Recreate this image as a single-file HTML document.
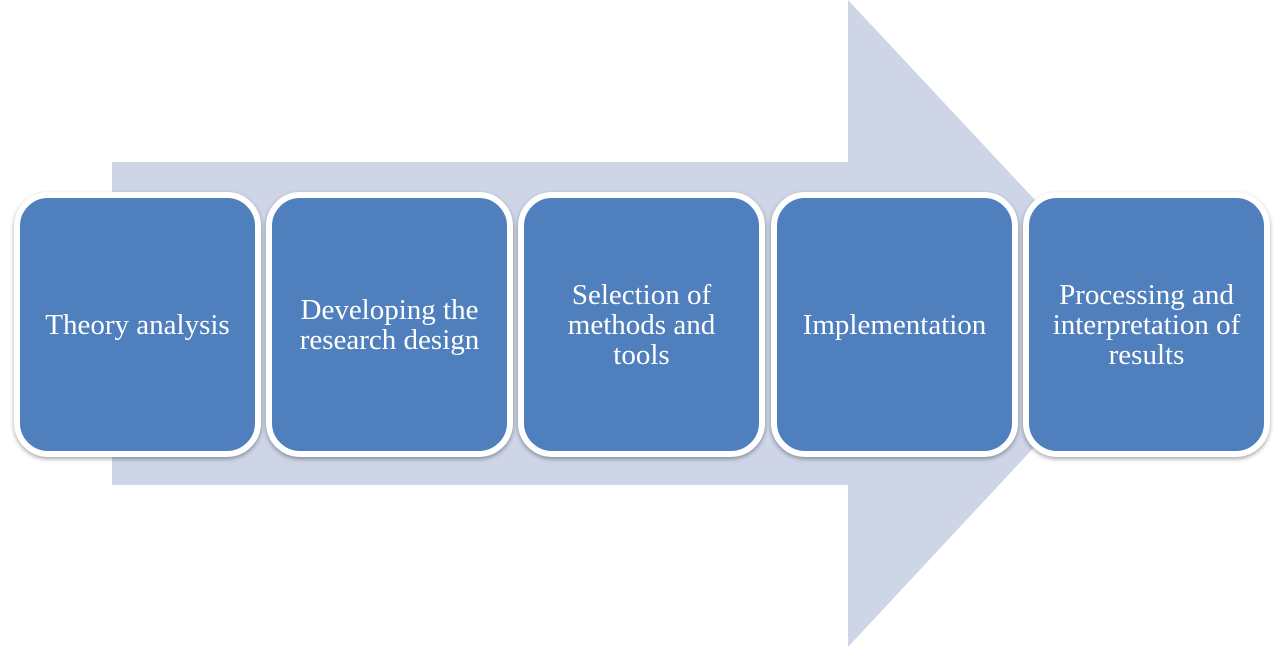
<!DOCTYPE html>
<html><head><style>
body{margin:0;width:1280px;height:647px;background:#fff;position:relative;overflow:hidden;font-family:"Liberation Serif",serif}
.b{position:absolute;top:192px;width:235px;height:253px;background:#4f7fbc;border:6px solid #fff;border-radius:34px;box-shadow:0 2px 4px rgba(0,0,0,.35);display:flex;align-items:center;justify-content:center;text-align:center;color:#fff;font-size:29px;line-height:30px}
</style></head><body>
<svg width="1280" height="647" style="position:absolute;left:0;top:0">
<polygon points="112,162 848,162 848,0 1150,323 848,647 848,485 112,485" fill="#cdd5e6"/>
</svg>
<div class="b" style="left:14px">Theory analysis</div>
<div class="b" style="left:266px">Developing the<br>research design</div>
<div class="b" style="left:518px">Selection of<br>methods and<br>tools</div>
<div class="b" style="left:771px">Implementation</div>
<div class="b" style="left:1023px">Processing and<br>interpretation of<br>results</div>
</body></html>
